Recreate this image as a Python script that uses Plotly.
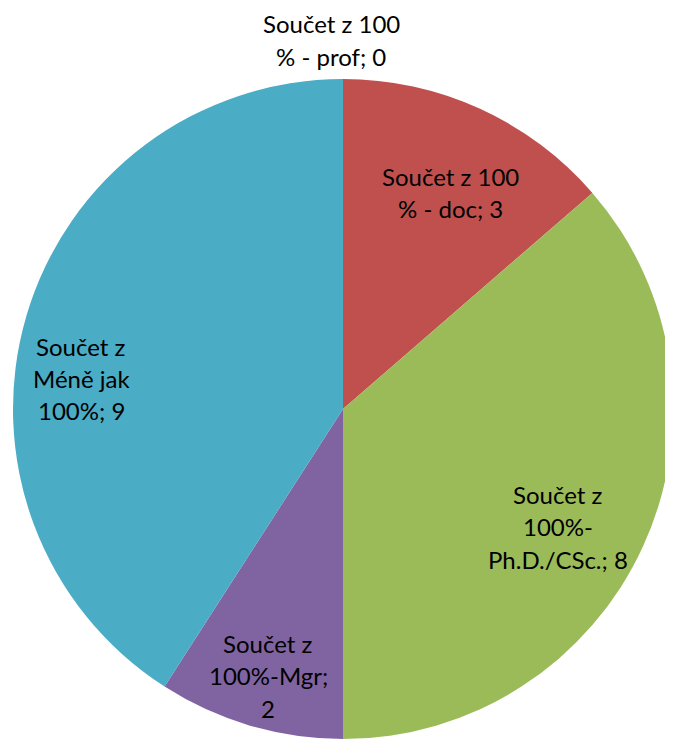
import plotly.graph_objects as go

# Data
categories = ["Součet z 100 % - prof", "Součet z 100 % - doc", "Součet z 100%-Ph.D./CSc.",
              "Součet z 100%-Mgr", "Součet z Méně jak 100%"]
values = [0, 3, 8, 2, 9]
colors = ["#4F81BD", "#C0504D", "#9BBB59", "#8064A2", "#4BACC6"]
# wrapped label lines as shown in the chart
label_lines = [
    ["Součet z 100", "% - prof; 0"],
    ["Součet z 100", "% - doc; 3"],
    ["Součet z", "100%-", "Ph.D./CSc.; 8"],
    ["Součet z", "100%-Mgr;", "2"],
    ["Součet z", "Méně jak", "100%; 9"],
]

PAGE_OFF = 8  # default body margin of the html page
W, H = 673 - PAGE_OFF, 742 - PAGE_OFF
# label centre positions (page pixels) and line spacing
label_pos = [(331, 24), (450, 176), (558, 494), (268, 643), (81, 346)]
line_gap = 32.5

# pie geometry (figure pixels)
cx, cy, r = 335, 401, 330

fig = go.Figure(go.Pie(
    labels=categories, values=values, sort=False, direction="clockwise",
    rotation=0, textinfo="none", hoverinfo="label+value",
    marker=dict(colors=colors, line=dict(width=0)),
    domain=dict(x=[(cx - r) / W, (cx + r) / W], y=[1 - (cy + r) / H, 1 - (cy - r) / H]),
    showlegend=False,
))

annotations = []
for lines, (px, py) in zip(label_lines, label_pos):
    for i, ln in enumerate(lines):
        x = px - PAGE_OFF
        y = py - PAGE_OFF + i * line_gap
        annotations.append(dict(
            x=x / W, y=1 - y / H, xref="paper", yref="paper",
            text=ln, showarrow=False, xanchor="center", yanchor="middle",
            font=dict(family="Lato, Carlito, sans-serif", size=24, color="#000000"),
        ))

fig.update_layout(
    width=W, height=H, margin=dict(l=0, r=0, t=0, b=0),
    paper_bgcolor="white", plot_bgcolor="white",
    annotations=annotations,
)
fig.write_html("out.html")
